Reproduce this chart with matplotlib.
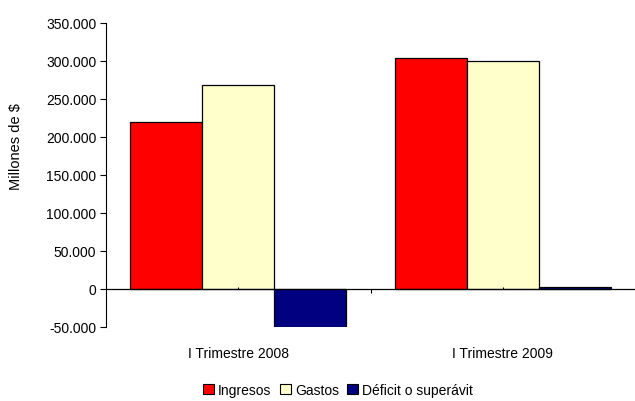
import matplotlib
matplotlib.use("Agg")
import matplotlib.pyplot as plt
import numpy as np
from matplotlib.patches import Patch
from matplotlib.ticker import FuncFormatter

plt.rcParams['font.family'] = ['Liberation Sans', 'DejaVu Sans']

categories = ["I Trimestre 2008", "I Trimestre 2009"]
series_names = ["Ingresos", "Gastos", "Déficit o superávit"]
ingresos = [220000, 303500]
gastos = [268500, 300500]
deficit = [-50500, 3000]
colors = ["#FF0000", "#FFFFCC", "#000080"]

fig = plt.figure(figsize=(6.35, 4.02), dpi=100)
ax = fig.add_axes([106/635, 1-328/402, 1-106/635, (328-24)/402])

x = np.arange(len(categories))
w = 216/265/3
for i, (vals, c) in enumerate(zip([ingresos, gastos, deficit], colors)):
    ax.bar(x + (i-1)*w, vals, width=w, color=c, edgecolor='black', linewidth=0.9, zorder=2)

ax.set_xlim(-0.5, 1.5)
ax.set_ylim(-50000, 350000)
ax.set_yticks(np.arange(-50000, 350001, 50000))
ax.yaxis.set_major_formatter(FuncFormatter(lambda v, p: f"{int(v):,}".replace(",", ".")))
ax.tick_params(axis='y', labelsize=10, length=4, width=0.8, direction='out', pad=3)

ax.set_xticks(x)
ax.set_xticklabels(categories, fontsize=10)
ax.tick_params(axis='x', length=0, pad=14)

for s in ['top', 'right', 'bottom']:
    ax.spines[s].set_visible(False)
ax.spines['left'].set_linewidth(0.8)

ax.axhline(0, color='black', linewidth=0.9, zorder=3)
ax.vlines([0.5], -5000, 0, color='black', linewidth=0.8, zorder=3)
ax.vlines([0, 1], 0, 3000, color='black', linewidth=0.8, zorder=3)

ax.set_ylabel("Millones de $", fontsize=10.5)
ax.yaxis.set_label_coords((23-106)/530, (328-147)/304)

handles = [Patch(facecolor=c, edgecolor='black', linewidth=0.8) for c in colors]
fig.legend(handles, series_names, loc='center', bbox_to_anchor=(338/635, 1-391/402),
           ncol=3, frameon=False, fontsize=10, handlelength=0.8, handleheight=0.8,
           handletextpad=0.3, columnspacing=0.6, borderpad=0)

fig.savefig("out.png", dpi=100)
